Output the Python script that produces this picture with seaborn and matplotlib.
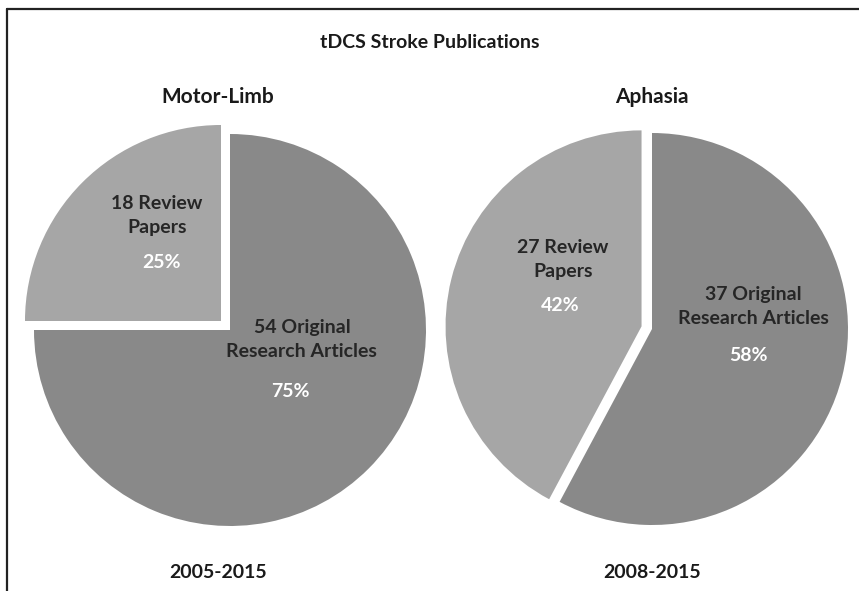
import matplotlib
matplotlib.use("Agg")
import matplotlib.pyplot as plt
from matplotlib.lines import Line2D
import seaborn as sns

# data
groups = ["Motor-Limb", "Aphasia"]
periods = ["2005-2015", "2008-2015"]
categories = ["Original\nResearch Articles", "Review\nPapers"]
motor_counts = [54, 18]
aphasia_counts = [37, 27]

sns.set_style("white")
plt.rcParams["font.family"] = ["Lato", "DejaVu Sans"]
plt.rcParams["font.weight"] = "bold"

colors = ["#898989", "#a6a6a6"]
W, H = 859, 591
fig = plt.figure(figsize=(W / 100, H / 100), dpi=100)

R = 196  # pie radius in px
lim = 1.15
side = 2 * lim * R


def pie_axes(cx, cy):
    # cx, cy: pie centre in px from top-left
    ax = fig.add_axes([(cx - side / 2) / W, (H - cy - side / 2) / H, side / W, side / H])
    ax.set_xlim(-lim, lim)
    ax.set_ylim(-lim, lim)
    ax.set_aspect("equal")
    ax.axis("off")
    return ax


def draw_pie(ax, counts, explode, name_pos, pct_pos):
    ax.pie(counts, colors=colors, startangle=90, counterclock=False,
           explode=explode, radius=1, wedgeprops=dict(linewidth=0))
    ax.set_xlim(-lim, lim)
    ax.set_ylim(-lim, lim)
    total = sum(counts)
    for n, cat, (tx, ty), (px, py) in zip(counts, categories, name_pos, pct_pos):
        if cat.startswith("Review"):
            label = f"{n} Review\nPapers"
        else:
            label = f"{n} Original\nResearch Articles"
        ax.text(tx, ty, label, ha="center", va="center", fontsize=14,
                color="#262626", fontweight="bold", linespacing=1.5)
        ax.text(px, py, f"{n / total:.0%}", ha="center", va="center",
                fontsize=14, color="white", fontweight="bold")


ax1 = pie_axes(230, 330)
draw_pie(ax1, motor_counts, [0, 0.065],
         [(0.367, -0.05), (-0.372, 0.582)],
         [(0.306, -0.316), (-0.347, 0.342)])

ax2 = pie_axes(652, 329)
draw_pie(ax2, aphasia_counts, [0, 0.055],
         [(0.515, 0.117), (-0.454, 0.357)],
         [(0.49, -0.133), (-0.469, 0.122)])

# titles
fig.text(430 / W, 1 - 42 / H, "tDCS Stroke Publications", ha="center", va="center",
         fontsize=14, fontweight="bold", color="#1a1a1a")
for x, g, p in zip([218, 652], groups, periods):
    fig.text(x / W, 1 - 97 / H, g, ha="center", va="center",
             fontsize=15, fontweight="bold", color="#1a1a1a")
    fig.text(x / W, 1 - 572 / H, p, ha="center", va="center",
             fontsize=14, fontweight="bold", color="#1a1a1a")

# frame (left and top only, as cropped in the original)
fig.add_artist(Line2D([6.5 / W, 6.5 / W], [0, 1 - 8.5 / H], color="#222222", lw=1.6))
fig.add_artist(Line2D([6.5 / W, 1], [1 - 8.5 / H, 1 - 8.5 / H], color="#222222", lw=1.6))

fig.savefig("out.png", dpi=100)
